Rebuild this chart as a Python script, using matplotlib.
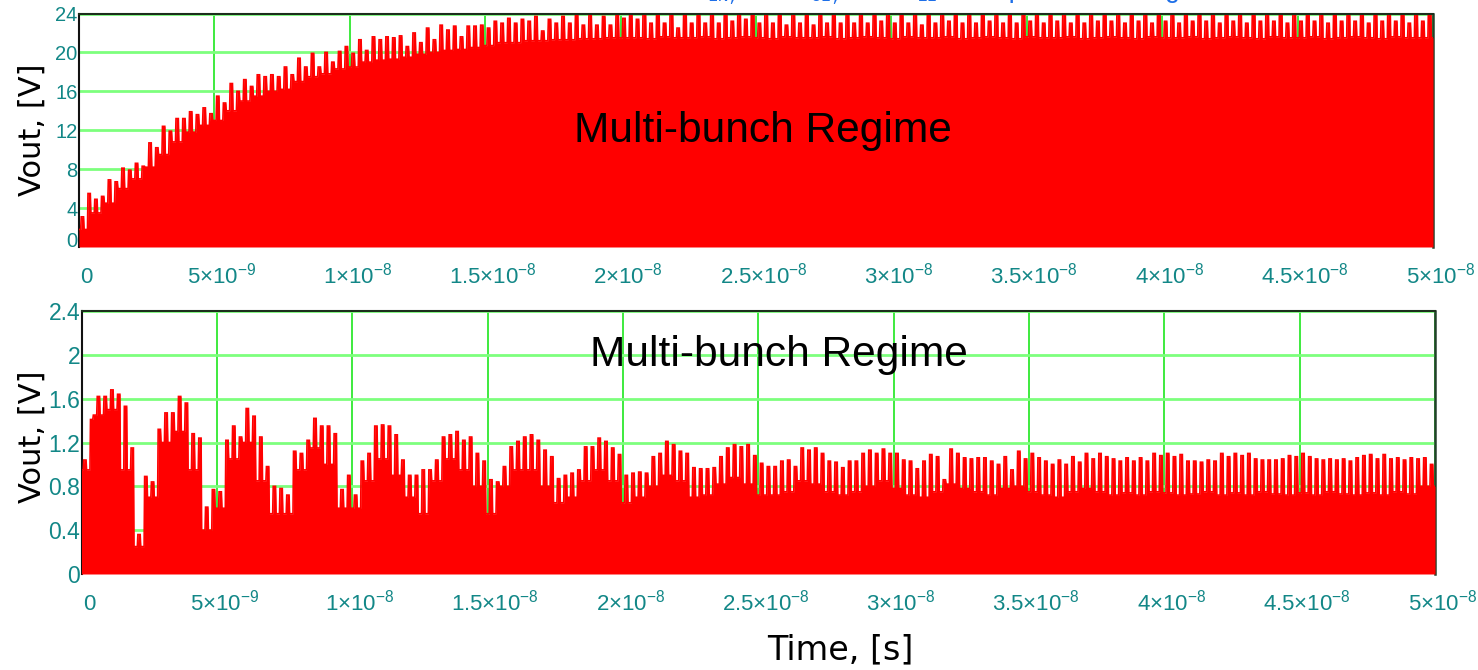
import matplotlib
matplotlib.use("Agg")
import matplotlib.pyplot as plt
import matplotlib.transforms as mtransforms
import numpy as np

plt.rcParams["mathtext.fontset"] = "custom"
plt.rcParams["mathtext.rm"] = "Liberation Sans"
plt.rcParams["mathtext.it"] = "Liberation Sans:italic"
plt.rcParams["mathtext.bf"] = "Liberation Sans:bold"

# ---------------- data ----------------
HALF_BUNCH = 0.25e-9          # spacing of the spikes [s]
T_END = 5e-8

x_ticks = [0, 5e-9, 1e-8, 1.5e-8, 2e-8, 2.5e-8, 3e-8, 3.5e-8, 4e-8, 4.5e-8, 5e-8]
x_tick_labels = ['0', r'$\mathregular{5×10^{-9}}$', r'$\mathregular{1×10^{-8}}$',
                 r'$\mathregular{1.5×10^{-8}}$', r'$\mathregular{2×10^{-8}}$',
                 r'$\mathregular{2.5×10^{-8}}$', r'$\mathregular{3×10^{-8}}$',
                 r'$\mathregular{3.5×10^{-8}}$', r'$\mathregular{4×10^{-8}}$',
                 r'$\mathregular{4.5×10^{-8}}$', r'$\mathregular{5×10^{-8}}$']
top_y_ticks = [0, 4, 8, 12, 16, 20, 24]
top_y_tick_labels = ['0', '4', '8', '12', '16', '20', '24']
bot_y_ticks = [0, 0.4, 0.8, 1.2, 1.6, 2.0, 2.4]
bot_y_tick_labels = ['0', '0.4', '0.8', '1.2', '1.6', '2', '2.4']

# upper panel: spike heights every 0.25 ns [V]
top_peaks = [
    3.1, 5.5, 4.9, 5.2, 6.9, 6.7, 8.1, 7.9, 8.6, 8.3,
    10.7, 10.2, 12.4, 11.9, 13.2, 13.2, 13.9, 13.6, 14.3, 13.7,
    15.5, 14.8, 16.8, 16.0, 17.2, 16.5, 17.7, 17.5, 17.7, 17.5,
    18.5, 17.7, 19.4, 18.5, 19.9, 18.5, 20.0, 19.0, 20.1, 20.6,
    19.9, 21.3, 20.2, 21.6, 21.3, 21.6, 21.5, 21.7, 20.6, 22.0,
    21.0, 22.5, 21.3, 22.8, 22.3, 22.7, 21.6, 22.7, 22.7, 22.8,
    22.5, 23.2, 23.0, 23.5, 23.0, 23.4, 23.2, 23.7, 22.2, 23.4,
    23.0, 23.7, 23.0, 23.9, 22.8, 23.9, 22.8, 23.7, 22.8, 23.9,
    23.5, 23.9, 23.4, 24.8, 23.0, 24.8, 23.0, 24.8, 22.5, 24.8,
    23.0, 24.8, 23.0, 24.8, 23.0, 24.8, 23.2, 24.8, 23.4, 24.8,
    23.0, 24.8, 23.0, 24.8, 22.8, 24.8, 23.0, 24.8, 22.8, 24.8,
    23.0, 24.8, 23.0, 24.8, 23.0, 24.8, 23.0, 24.8, 23.2, 24.8,
    23.0, 24.8, 23.0, 24.8, 22.8, 24.8, 23.0, 24.8, 23.2, 24.8,
    23.0, 24.8, 23.0, 24.8, 23.2, 24.8, 23.0, 24.8, 23.0, 24.8,
    23.2, 24.8, 23.0, 24.8, 23.2, 24.8, 23.0, 24.8, 23.0, 24.8,
    23.2, 24.8, 23.2, 24.8, 23.0, 24.8, 23.2, 24.8, 23.0, 24.8,
    23.2, 24.8, 23.0, 24.8, 23.2, 24.8, 23.2, 24.8, 23.0, 24.8,
    23.2, 24.8, 23.0, 24.8, 23.2, 24.8, 23.2, 24.8, 23.0, 24.8,
    23.2, 24.8, 23.2, 24.8, 23.0, 24.8, 23.2, 24.8, 23.2, 24.8,
    23.0, 24.8, 23.2, 24.8, 23.2, 24.8, 23.0, 24.8, 23.2, 24.8,
]
# upper panel: level between spikes, one per bunch (0.5 ns) [V]
top_floors = [
    1.8, 3.5, 4.5, 6.0, 7.0, 8.2, 9.5, 10.8, 11.8, 12.5,
    13.0, 14.0, 15.0, 15.5, 16.0, 16.2, 17.0, 17.5, 17.8, 18.3,
    18.5, 19.0, 19.2, 19.3, 19.5, 19.8, 20.0, 20.2, 20.3, 20.5,
    20.7, 21.0, 21.0, 21.2, 21.2, 21.3, 21.3, 21.4, 21.4, 21.5,
    21.5, 21.5, 21.4, 21.6, 21.5, 21.5, 21.6, 21.4, 21.5, 21.6,
    21.5, 21.4, 21.6, 21.5, 21.5, 21.6, 21.4, 21.5, 21.6, 21.5,
    21.4, 21.6, 21.5, 21.5, 21.6, 21.4, 21.5, 21.6, 21.5, 21.4,
    21.6, 21.5, 21.5, 21.6, 21.4, 21.5, 21.6, 21.5, 21.4, 21.6,
    21.5, 21.5, 21.6, 21.4, 21.5, 21.6, 21.5, 21.4, 21.6, 21.5,
    21.5, 21.6, 21.4, 21.5, 21.6, 21.5, 21.4, 21.6, 21.5, 21.5,
]
# lower panel: spike heights every 0.25 ns [V]
bot_peaks = [
    1.04, 1.41, 1.62, 1.62, 1.68, 1.64, 1.53, 1.15, 0.36, 0.89,
    0.84, 1.32, 1.47, 1.47, 1.62, 1.56, 1.28, 1.24, 0.61, 0.77,
    0.75, 1.22, 1.35, 1.25, 1.51, 1.44, 1.25, 0.98, 0.80, 0.78,
    0.72, 1.12, 1.10, 1.22, 1.42, 1.35, 1.35, 1.28, 0.77, 0.90,
    0.72, 1.03, 1.10, 1.35, 1.36, 1.35, 1.27, 1.04, 0.90, 0.90,
    0.95, 0.95, 1.04, 1.25, 1.27, 1.30, 1.22, 1.25, 1.10, 1.03,
    0.86, 0.84, 0.98, 1.16, 1.21, 1.25, 1.27, 1.22, 1.13, 1.07,
    0.87, 0.90, 0.92, 0.95, 1.16, 1.16, 1.24, 1.21, 1.15, 1.09,
    0.90, 0.92, 0.93, 0.92, 1.07, 1.10, 1.21, 1.18, 1.12, 1.10,
    0.97, 0.96, 0.96, 0.97, 1.07, 1.15, 1.18, 1.16, 1.18, 1.08,
    1.01, 0.98, 0.98, 1.03, 1.04, 0.98, 1.15, 1.13, 1.15, 1.10,
    1.03, 1.02, 0.97, 1.03, 1.03, 1.10, 1.13, 1.10, 1.14, 1.10,
    1.10, 1.04, 1.03, 0.96, 1.03, 1.09, 1.07, 0.86, 1.14, 1.10,
    1.06, 1.05, 1.06, 1.06, 1.03, 1.00, 1.07, 0.95, 1.12, 1.05,
    1.10, 1.06, 1.03, 1.00, 1.04, 1.00, 1.07, 1.02, 1.10, 1.05,
    1.10, 1.07, 1.05, 1.03, 1.06, 1.03, 1.06, 1.03, 1.10, 1.08,
    1.10, 1.07, 1.09, 1.03, 1.03, 1.02, 1.04, 1.03, 1.10, 1.07,
    1.10, 1.08, 1.10, 1.05, 1.04, 1.04, 1.04, 1.05, 1.08, 1.07,
    1.10, 1.07, 1.05, 1.04, 1.05, 1.04, 1.05, 1.03, 1.06, 1.08,
    1.09, 1.05, 1.09, 1.05, 1.06, 1.04, 1.06, 1.05, 1.06, 1.00,
]
# lower panel: level between spikes, one per bunch (0.5 ns) [V]
bot_floors = [
    0.95, 1.45, 1.50, 0.95, 0.25, 0.70, 1.20, 1.30, 0.95, 0.40,
    0.60, 1.05, 1.20, 0.85, 0.55, 0.55, 0.95, 1.15, 1.00, 0.60,
    0.60, 0.85, 1.05, 0.90, 0.70, 0.55, 0.85, 1.05, 0.95, 0.80,
    0.55, 0.80, 0.95, 0.95, 0.80, 0.65, 0.70, 0.85, 0.95, 0.85,
    0.65, 0.70, 0.80, 0.90, 0.85, 0.70, 0.72, 0.82, 0.88, 0.82,
    0.72, 0.72, 0.75, 0.85, 0.82, 0.75, 0.72, 0.75, 0.80, 0.85,
    0.78, 0.72, 0.70, 0.75, 0.82, 0.78, 0.75, 0.72, 0.78, 0.80,
    0.75, 0.72, 0.70, 0.75, 0.78, 0.75, 0.72, 0.74, 0.72, 0.75,
    0.74, 0.72, 0.73, 0.75, 0.72, 0.74, 0.72, 0.75, 0.73, 0.72,
    0.74, 0.72, 0.75, 0.73, 0.72, 0.74, 0.72, 0.75, 0.73, 0.80,
]

annotation = "Multi-bunch Regime"
y_label = "Vout, [V]"
x_label = "Time, [s]"

# ---------------- styling ----------------
W, H = 1478, 670
RED = "#ff0000"
TEAL = "#128787"
GRID_H = "#7dff7d"
GRID_V = "#2fe82f"


def envelope(peaks, floors):
    """Polyline through the read spike heights, sitting on the read floor levels."""
    w = 0.5 * HALF_BUNCH
    r = 0.08 * HALF_BUNCH
    xs, ys = [0.0], [floors[0]]
    n_f = len(floors)
    for i, p in enumerate(peaks):
        c = (i + 0.5) * HALF_BUNCH
        f_prev = floors[min(i // 2, n_f - 1)]
        f_next = floors[min((i + 1) // 2, n_f - 1)]
        xs += [c - w / 2, c - w / 2 + r, c + w / 2 - r, c + w / 2]
        ys += [f_prev, p, p, f_next]
    xs.append(T_END)
    ys.append(floors[-1])
    return np.array(xs), np.array(ys)


fig = plt.figure(figsize=(W / 100, H / 100), dpi=100)
ax1 = fig.add_axes([79 / W, (H - 247) / H, (1433 - 79) / W, (247 - 13.5) / H])
ax2 = fig.add_axes([81.5 / W, (H - 574) / H, (1435 - 81.5) / W, (574 - 311) / H])

panels = [
    (ax1, top_peaks, top_floors, top_y_ticks, top_y_tick_labels, 24, (763, 131), 14.5),
    (ax2, bot_peaks, bot_floors, bot_y_ticks, bot_y_tick_labels, 2.4, (779, 355), 16.5),
]

for ax, peaks, floors, yt, ytl, ytop, txt_xy, ysize in panels:
    xs, ys = envelope(peaks, floors)
    ax.fill_between(xs, 0, ys, color=RED, lw=0, zorder=3)
    ax.plot(xs, ys, color=RED, lw=1.2, zorder=3, solid_joinstyle="miter")

    ax.set_xlim(0, T_END)
    ax.set_ylim(0, ytop)
    ax.set_axisbelow(True)
    ax.xaxis.grid(True, color=GRID_V, lw=1.3)
    ax.yaxis.grid(True, color=GRID_H, lw=2.0)

    ax.set_xticks(x_ticks)
    ax.set_xticklabels(x_tick_labels)
    ax.set_yticks(yt)
    ax.set_yticklabels(ytl)
    ax.tick_params(axis="both", length=0, labelcolor=TEAL)
    ax.tick_params(axis="x", pad=26, labelsize=16)
    ax.tick_params(axis="y", pad=1, labelsize=ysize)
    for lbl in ax.get_yticklabels():
        lbl.set_family("Liberation Sans")

    off = mtransforms.ScaledTranslation(7.5 / 100, 0, fig.dpi_scale_trans)
    for lbl in ax.get_xticklabels():
        lbl.set_family("Liberation Sans")
        lbl.set_verticalalignment("baseline")
        lbl.set_transform(lbl.get_transform() + off)

    for side in ("left", "right", "top", "bottom"):
        ax.spines[side].set_zorder(2.5)
    ax.spines["bottom"].set_visible(False)
    ax.spines["left"].set_color("#111111")
    ax.spines["left"].set_linewidth(1.5)
    ax.spines["top"].set_color("#1c2e1c")
    ax.spines["top"].set_linewidth(1.5)
    ax.spines["top"].set_zorder(4)
    ax.spines["right"].set_color("#23402a")
    ax.spines["right"].set_linewidth(1.8)

    ax.text(txt_xy[0] / W, 1 - txt_xy[1] / H, annotation, transform=fig.transFigure,
            ha="center", va="center", fontsize=30.6, family="Liberation Sans",
            color="black", zorder=6)

# first y tick label of the upper panel sits on the axis bottom
ax1.get_yticklabels()[0].set_verticalalignment("baseline")

fig.text(32 / W, 1 - 130 / H, y_label, rotation=90, ha="center", va="center",
         fontsize=22, color="black")
fig.text(32 / W, 1 - 437 / H, y_label, rotation=90, ha="center", va="center",
         fontsize=22, color="black")
fig.text(840 / W, 1 - 650 / H, x_label, ha="center", va="center",
         fontsize=24, color="black")

# clipped title of the source figure (only its lower edge is visible)
for frag, xp, yb, fs in [("IN,", 707, 1, 13), ("OI,", 810, 1, 13), ("LI", 917, 1, 13),
                         ("p", 1008, -3, 20), ("g", 1163, -3, 20)]:
    fig.text(xp / W, 1 - yb / H, frag, ha="left", va="baseline", fontsize=fs,
             color="#1e6fe8", family="Liberation Mono")

fig.savefig("out.png", dpi=100)
